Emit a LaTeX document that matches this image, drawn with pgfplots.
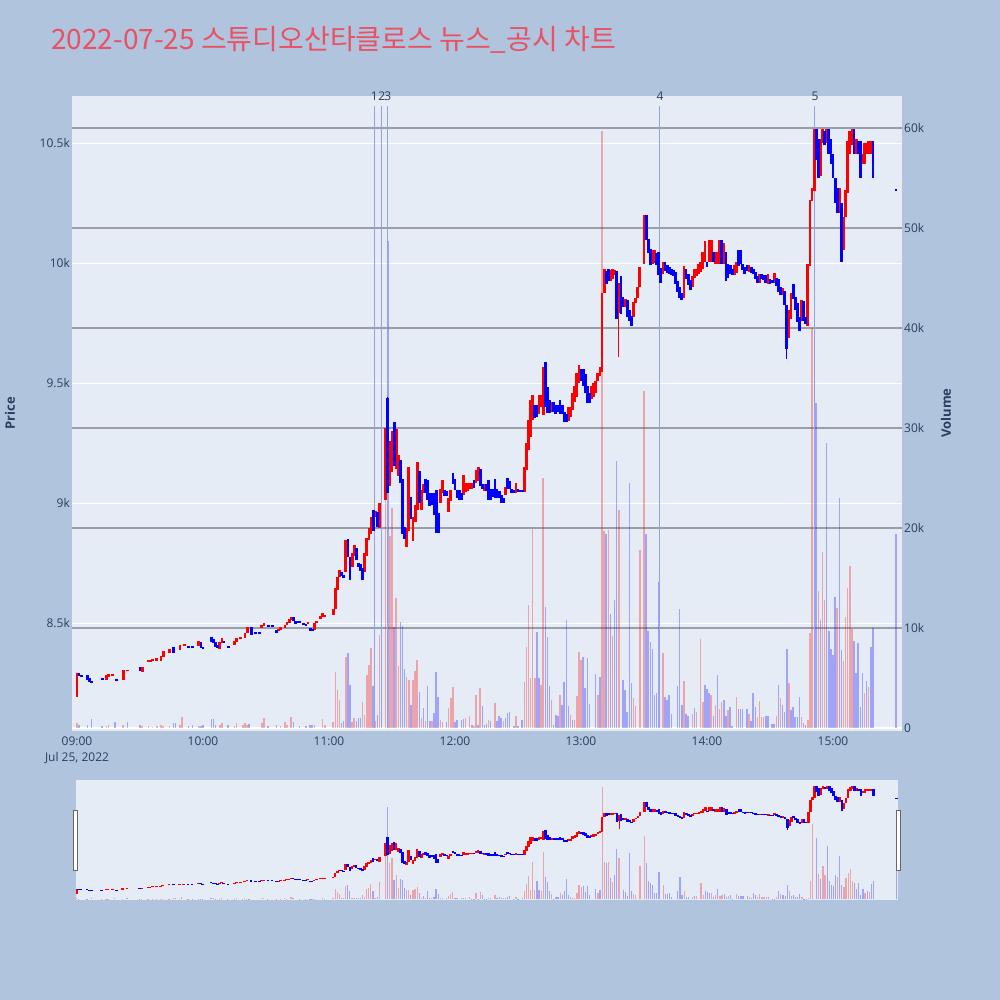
\documentclass[border=0pt]{standalone}
\usepackage{pgfplots}
\pgfplotsset{compat=1.18}
\usepackage{pgfplotstable}
\usepackage{fontspec}
\setmainfont{Open Sans}
\newfontfamily\krfont{Noto Sans CJK KR}
\definecolor{pagebg}{HTML}{B0C4DE}
\definecolor{plotbg}{HTML}{E5ECF6}
\definecolor{axtext}{HTML}{2A3F5F}
\definecolor{titlec}{RGB}{232,82,100}
\definecolor{incr}{HTML}{FF0000}
\definecolor{decr}{HTML}{0000FF}
\definecolor{vgrid}{RGB}{155,158,165}
\definecolor{newsc}{RGB}{150,160,240}

% candle bodies: t lo hi
\pgfplotstableread{
t lo hi
0 8192 8292
14 8262 8283
15 8275 8287
17 8280 8288
22 8262 8304
24 8298 8306
31 8296 8317
34 8338 8346
35 8338 8346
36 8340 8350
38 8342 8354
40 8342 8362
41 8360 8383
44 8375 8392
49 8388 8408
51 8405 8413
58 8405 8425
68 8392 8420
69 8415 8437
75 8410 8425
76 8420 8438
78 8434 8442
80 8437 8460
81 8458 8483
88 8480 8492
89 8488 8500
96 8466 8476
97 8472 8482
99 8480 8492
100 8490 8505
101 8500 8515
102 8512 8525
110 8496 8504
113 8470 8500
114 8500 8510
116 8515 8530
117 8525 8540
118 8526 8534
122 8535 8560
123 8560 8645
124 8637 8690
125 8690 8720
128 8712 8845
131 8733 8790
132 8780 8825
137 8712 8790
138 8780 8855
139 8846 8896
140 8871 8942
142 8940 8965
144 8896 9000
147 9012 9312
149 9071 9258
150 9129 9300
152 9142 9308
153 9112 9200
157 8817 8896
158 8883 9150
160 8842 8942
161 8920 8990
162 8971 9171
164 8970 9054
165 9040 9080
173 9000 9060
174 9040 9096
177 8962 9020
178 9010 9054
184 9033 9117
185 9046 9083
186 9050 9083
187 9058 9083
188 9060 9083
190 9083 9137
191 9090 9150
194 9050 9080
204 9033 9067
209 9040 9085
213 9046 9150
214 9137 9250
215 9220 9345
216 9275 9430
217 9345 9450
220 9370 9450
221 9400 9450
222 9367 9567
226 9380 9420
234 9340 9400
235 9360 9400
236 9387 9458
237 9420 9487
238 9442 9540
239 9500 9575
245 9433 9487
246 9442 9500
247 9460 9510
248 9508 9540
249 9530 9567
250 9546 9875
251 9875 9975
254 9925 9970
255 9933 9975
256 9950 9970
258 9790 9917
261 9817 9850
265 9775 9837
266 9833 9854
267 9854 9900
268 9900 9983
270 9996 10200
274 9996 10054
275 10000 10054
279 9954 10004
289 9854 9987
293 9900 9946
294 9937 9975
295 9945 9975
296 9954 9996
297 9962 10004
298 9975 10046
299 10004 10092
301 10004 10096
302 10004 10096
304 9996 10046
305 9996 10046
306 9996 10096
308 9996 10083
313 9950 9990
314 9960 10004
320 9962 9990
325 9917 9954
329 9912 9954
332 9917 9958
336 9867 9896
339 9687 9804
340 9767 9875
345 9758 9846
348 9737 9996
349 9987 10262
350 10260 10312
351 10300 10558
354 10362 10517
355 10500 10558
357 10500 10558
363 10208 10312
365 10054 10192
366 10192 10304
367 10292 10508
368 10454 10550
369 10490 10558
371 10454 10517
374 10412 10454
375 10412 10500
376 10454 10500
377 10454 10508
378 10454 10508
}\upC

\pgfplotstableread{
t lo hi
1 8280 8290
2 8275 8285
5 8262 8283
6 8255 8272
7 8250 8260
12 8262 8270
19 8258 8266
30 8300 8317
46 8375 8400
53 8396 8404
55 8396 8404
59 8395 8420
60 8390 8402
64 8420 8440
65 8417 8435
66 8400 8421
67 8396 8410
70 8416 8424
72 8396 8404
83 8450 8483
85 8454 8462
87 8454 8462
91 8484 8492
93 8484 8492
95 8458 8470
103 8508 8525
104 8495 8510
105 8501 8509
106 8501 8509
108 8492 8500
109 8488 8496
111 8467 8478
112 8467 8475
126 8695 8712
127 8687 8700
129 8775 8850
130 8680 8775
133 8762 8812
134 8733 8750
135 8717 8746
136 8680 8730
141 8883 8970
143 8900 8962
148 9042 9437
151 9154 9337
154 9083 9179
155 8871 9100
156 8850 8900
159 8933 9025
163 9000 9133
166 9042 9100
167 9012 9096
168 8987 9040
169 8990 9040
170 8950 9040
171 8875 9054
172 8875 8960
175 9030 9054
176 9030 9050
179 9080 9125
180 9054 9100
181 9020 9054
182 9012 9054
183 9012 9040
189 9062 9096
192 9070 9140
193 9060 9080
195 9050 9080
196 9012 9096
197 9012 9060
198 9025 9060
199 9020 9100
200 9020 9060
201 9020 9050
202 9000 9033
203 9000 9020
205 9058 9104
206 9058 9090
207 9040 9060
208 9040 9055
210 9045 9060
211 9045 9055
212 9045 9055
218 9354 9408
219 9360 9410
223 9400 9587
224 9375 9483
225 9375 9430
227 9380 9420
228 9370 9410
229 9380 9410
230 9370 9430
231 9370 9410
232 9337 9380
233 9337 9370
240 9510 9560
241 9487 9558
242 9458 9537
243 9417 9487
244 9417 9460
252 9912 9967
253 9925 9975
257 9767 9967
259 9787 9946
260 9817 9858
262 9775 9846
263 9760 9804
264 9737 9780
271 10096 10200
272 10040 10100
273 9990 10060
276 9990 10040
277 9950 10046
278 9917 9980
280 9967 10004
281 9960 9990
282 9955 9983
283 9950 9975
284 9946 9970
285 9912 9962
286 9880 9925
287 9854 9900
288 9846 9875
290 9933 9975
291 9910 9954
292 9887 9930
300 9983 10004
303 10004 10046
307 9996 10096
309 9925 10046
310 9937 9996
311 9954 9990
312 9950 9975
315 9987 10054
316 9996 10054
317 9970 9996
318 9954 9985
319 9967 9990
321 9960 9983
322 9954 9975
323 9933 9962
324 9917 9946
326 9933 9954
327 9930 9950
328 9917 9950
330 9912 9933
331 9915 9930
333 9904 9937
334 9880 9933
335 9867 9900
337 9825 9883
338 9640 9825
341 9850 9912
342 9804 9860
343 9754 9833
344 9717 9775
346 9758 9842
347 9746 9775
352 10429 10558
353 10354 10517
356 10490 10550
358 10454 10558
359 10412 10517
360 10354 10454
361 10250 10354
362 10208 10312
364 10004 10250
370 10454 10558
372 10454 10508
373 10354 10508
379 10354 10508
390 10300 10308
}\downC

\pgfplotstableread{
t lo hi
258 9608 9917
}\upW
\pgfplotstableread{
t lo hi
148 9042 9441
338 9600 9825
}\downW

% volumes
\pgfplotstableread{
t v
0 500
14 200
15 300
22 300
31 200
34 200
36 100
38 200
40 300
41 200
44 200
49 300
50 1100
58 200
68 300
69 500
75 200
76 500
79 300
80 500
81 300
88 500
89 1000
97 200
99 600
100 300
102 1100
113 300
117 900
118 300
122 600
123 5600
124 3800
125 2800
128 7100
131 600
132 1000
136 2600
137 1300
138 5300
139 6300
140 8000
142 700
144 9300
147 27000
149 19200
150 22000
152 13000
153 6200
157 5100
158 4800
160 4800
161 5700
162 6800
164 1000
166 700
169 700
173 800
174 600
177 2000
178 3000
179 4100
185 1000
187 1200
189 200
190 3300
192 4000
196 800
199 2500
203 700
209 1200
213 4600
214 8100
215 12300
216 5000
217 19900
218 5000
221 4300
222 25000
226 2800
230 3300
235 1300
237 800
238 3200
239 7600
240 6800
248 3300
250 59700
251 19700
253 19800
255 9200
258 21800
265 3000
266 2200
268 17800
270 33700
279 7500
289 4700
293 1400
295 1600
297 8900
298 2600
302 3300
304 2300
306 1900
307 2600
310 1800
314 3100
320 1400
324 1100
325 2700
326 1100
327 1100
333 1200
335 3000
339 4500
345 1100
348 800
349 9500
350 40000
353 13700
355 17600
356 12800
362 12000
365 6700
366 11100
367 14000
368 16200
369 9900
375 3500
377 4100
}\upV

\pgfplotstableread{
t v
1 300
5 300
7 900
12 200
18 600
24 600
30 300
46 500
47 500
53 200
55 300
59 200
60 300
64 900
65 900
66 300
72 300
82 400
91 200
95 300
103 600
106 200
109 200
111 300
112 300
126 500
127 700
129 7500
130 4300
133 700
134 1000
135 1000
141 4200
143 1300
148 48700
151 10100
154 10600
155 10200
156 5900
159 2300
163 3600
165 2000
167 4200
168 700
170 1500
171 5600
172 3100
176 600
180 600
181 800
183 800
184 900
188 300
191 300
193 2200
194 300
195 400
197 700
200 700
201 1200
202 1000
204 1000
205 1500
206 1600
208 200
210 200
212 800
219 9600
220 5000
223 12100
224 9100
225 4200
227 300
228 1300
229 1200
231 2300
232 4600
233 10800
234 2200
236 800
241 7100
242 4000
243 7000
244 2400
247 5400
249 5100
252 19400
254 11400
256 12800
257 26700
260 4800
261 3800
262 1600
263 24500
264 4500
271 19400
272 9700
273 8600
274 7900
275 3300
276 3500
277 14600
280 3100
281 2800
282 3300
283 1400
286 4200
287 11900
288 2300
290 1400
291 1200
294 2000
299 4300
300 3900
301 3500
303 1200
305 5300
308 2800
309 1200
311 2100
312 200
315 1900
316 1900
317 1900
319 1900
321 700
322 3500
323 2100
328 1200
329 1200
331 400
332 400
334 4300
336 2300
337 1600
338 7900
340 1800
341 2100
342 1100
343 1100
344 3100
346 450
347 300
352 32500
354 10800
357 28500
358 9700
359 7900
360 7300
361 13100
363 23000
364 7800
370 8700
371 5500
372 8500
373 2100
374 5500
376 4700
378 8100
379 10000
390 19400
}\downV

\pgfplotsset{
  body/.style n args={2}{only marks, mark=*, mark size=0pt,
    mark options={draw opacity=0, fill opacity=0}, forget plot,
    error bars/y dir=plus, error bars/y explicit, error bars/error mark=none,
    error bars/error bar style={draw=#1, line width=#2}},
  vol/.style n args={2}{ycomb, mark=none, forget plot, draw=#1, draw opacity=0.3, line width=#2},
  base/.style={scale only axis, anchor=south west, axis line style={draw=none},
    major tick length=0pt, scaled x ticks=false, scaled y ticks=false},
}
\newcommand{\bodies}[2]{%
  \addplot[body={incr}{#1}] table[x=t, y=lo, y error plus expr={\thisrow{hi}-\thisrow{lo}}] {\upC};
  \addplot[body={decr}{#1}] table[x=t, y=lo, y error plus expr={\thisrow{hi}-\thisrow{lo}}] {\downC};
  \addplot[body={incr}{#2}] table[x=t, y=lo, y error plus expr={\thisrow{hi}-\thisrow{lo}}] {\upW};
  \addplot[body={decr}{#2}] table[x=t, y=lo, y error plus expr={\thisrow{hi}-\thisrow{lo}}] {\downW};
}
\newcommand{\vols}[1]{%
  \addplot[vol={incr}{#1}] table[x=t, y=v] {\upV};
  \addplot[vol={decr}{#1}] table[x=t, y=v] {\downV};
}

\begin{document}
\begin{tikzpicture}[x=1pt,y=1pt]
\fill[pagebg] (0,0) rectangle (1000,1000);
\path[use as bounding box] (0,0) rectangle (1000,1000);

\node[anchor=base west, inner sep=0pt, text=titlec, font=\krfont\fontsize{28}{32}\selectfont] at (51,950) {2022-07-25 스튜디오산타클로스 뉴스\_공시 차트};

% main price background axis
\begin{axis}[base, at={(72pt,269pt)}, width=830pt, height=635pt,
  xmin=-2.38, xmax=392.86, ymin=8050, ymax=10696,
  axis background/.style={fill=plotbg},
  xtick={0,60,...,360},
  xticklabels={{09:00\\Jul 25, 2022},10:00,11:00,12:00,13:00,14:00,15:00},
  ytick={8500,9000,9500,10000,10500},
  yticklabels={8.5k,9k,9.5k,10k,10.5k},
  ymajorgrids, grid style={white, line width=1pt},
  tick label style={font=\fontsize{12}{16}\selectfont, text=axtext},
  xticklabel style={align=center, anchor=north, inner sep=0pt, yshift=-6pt},
  yticklabel style={anchor=east, inner sep=0pt, xshift=-2pt},
]
\addplot[draw=none, mark=none] coordinates {(0,9000)};
\end{axis}

% volume axis
\begin{axis}[base, at={(72pt,269pt)}, width=830pt, height=635pt,
  xmin=-2.38, xmax=392.86, ymin=-300, ymax=63200,
  xtick=\empty,
  ytick={10000,20000,30000,40000,50000,60000},
  yticklabels={10k,20k,30k,40k,50k,60k},
  extra y ticks={0}, extra y tick labels={0},
  extra y tick style={grid style={white, line width=2pt}},
  yticklabel pos=right,
  ymajorgrids, grid style={vgrid, line width=1.2pt},
  yticklabel style={anchor=west, inner sep=0pt, xshift=2pt, font=\fontsize{12}{16}\selectfont, text=axtext},
  clip mode=individual,
]
\vols{1.5pt}
\addplot[newsc, line width=1pt, forget plot] coordinates {(141.6,0) (141.6,62200)};
\addplot[newsc, line width=1pt, forget plot] coordinates {(145.1,0) (145.1,62200)};
\addplot[newsc, line width=1pt, forget plot] coordinates {(148.0,0) (148.0,62200)};
\addplot[newsc, line width=1pt, forget plot] coordinates {(277.6,0) (277.6,62200)};
\addplot[newsc, line width=1pt, forget plot] coordinates {(351.4,0) (351.4,62200)};
\node[font=\fontsize{12}{14}\selectfont, text=axtext, inner sep=0pt] at (axis cs:141.6,63200) {1};
\node[font=\fontsize{12}{14}\selectfont, text=axtext, inner sep=0pt] at (axis cs:145.1,63200) {2};
\node[font=\fontsize{12}{14}\selectfont, text=axtext, inner sep=0pt] at (axis cs:148.0,63200) {3};
\node[font=\fontsize{12}{14}\selectfont, text=axtext, inner sep=0pt] at (axis cs:277.6,63200) {4};
\node[font=\fontsize{12}{14}\selectfont, text=axtext, inner sep=0pt] at (axis cs:351.4,63200) {5};
\end{axis}

% candles
\begin{axis}[base, at={(72pt,269pt)}, width=830pt, height=635pt,
  xmin=-2.38, xmax=392.86, ymin=8050, ymax=10696, hide axis]
\bodies{2.8pt}{1pt}
\end{axis}

% range slider
\begin{axis}[base, at={(76pt,100pt)}, width=822pt, height=120pt,
  xmin=-0.24, xmax=390.7, ymin=-300, ymax=63200,
  axis background/.style={fill=plotbg}, xtick=\empty, ytick=\empty]
\vols{1.2pt}
\end{axis}
\begin{axis}[base, at={(76pt,100pt)}, width=822pt, height=120pt,
  xmin=-0.24, xmax=390.7, ymin=8050, ymax=10696, hide axis]
\bodies{2.6pt}{0.8pt}
\end{axis}

\draw[fill=white, draw=black!60, line width=0.8pt] (73.5,130) rectangle (77.5,190);
\draw[fill=white, draw=black!60, line width=0.8pt] (896.5,130) rectangle (900.5,190);

\node[rotate=90, font=\bfseries\fontsize{13}{15}\selectfont, text=axtext] at (10,587) {Price};
\node[rotate=90, font=\bfseries\fontsize{13}{15}\selectfont, text=axtext] at (946,587) {Volume};
\end{tikzpicture}
\end{document}
